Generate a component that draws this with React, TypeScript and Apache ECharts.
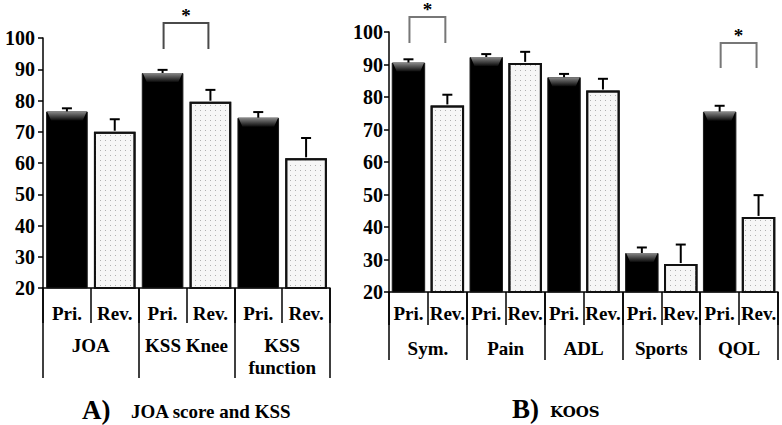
import React, { useEffect, useRef } from "react";
import * as echarts from "echarts";

// ---- data ----
const leftCats = ["Pri.", "Rev.", "Pri.", "Rev.", "Pri.", "Rev."];
const leftGroups = ["JOA", "KSS Knee", "KSS\nfunction"];
const leftMeans = [76.5, 70, 88.8, 79.6, 74.5, 61.5];
const leftErrs = [1, 4, 1, 3.8, 1.8, 6.5];

const rightCats = ["Pri.", "Rev.", "Pri.", "Rev.", "Pri.", "Rev.", "Pri.", "Rev.", "Pri.", "Rev."];
const rightGroups = ["Sym.", "Pain", "ADL", "Sports", "QOL"];
const rightMeans = [90.6, 77.4, 92.3, 90.5, 86.1, 82, 32, 28.6, 75.5, 43.1];
const rightErrs = [1, 3.3, 0.9, 3.4, 1, 3.6, 1.7, 6, 1.8, 6.7];

const yTicks = { min: 20, max: 100, interval: 10 };

// significance brackets: [fromIndex, toIndex, bottomLevel, topLevel]
const leftSig = [[2, 3, 96.5, 104.8]];
const rightSig = [
  [0, 1, 96.6, 104.6],
  [8, 9, 88.9, 96.6],
];

const FONT = "Liberation Serif, Times New Roman, serif";

export default function App() {
  const ref = useRef<HTMLDivElement>(null);

  useEffect(() => {
    if (!ref.current) return;
    const chart = echarts.init(ref.current, undefined, { renderer: "svg" });

    const priStyle = { color: "#000", borderColor: "#1a1a1a", borderWidth: 1 };
    const revStyle = {
      color: "#f6f6f6",
      borderColor: "#111",
      borderWidth: 2,
      decal: {
        symbol: "rect",
        symbolSize: 1,
        dashArrayX: [1, 4],
        dashArrayY: [1, 4],
        color: "#b0b0b0",
      },
    };

    const barData = (arr: number[]) =>
      arr.map((v, i) => ({ value: v, itemStyle: i % 2 === 0 ? priStyle : revStyle }));

    const errRender = (gap: number) => (params: any, api: any) => {
      const idx = api.value(0);
      const mean = api.value(1);
      const err = api.value(2);
      const p = api.coord([idx, mean]);
      const t = api.coord([idx, mean + err]);
      const bw = api.size([1, 0])[0] * (1 - gap);
      const children: any[] = [];
      if (params.dataIndex % 2 === 0) {
        const x0 = p[0] - bw / 2;
        const x1 = p[0] + bw / 2;
        children.push({
          type: "polygon",
          shape: {
            points: [
              [x0 + 1, p[1]],
              [x1 - 1, p[1]],
              [x1 - 5, p[1] + 9],
              [x0 + 5, p[1] + 9],
            ],
          },
          style: {
            fill: new echarts.graphic.LinearGradient(0, 0, 0, 1, [
              { offset: 0, color: "#8a8a8a" },
              { offset: 1, color: "#0a0a0a" },
            ]),
          },
        });
      }
      children.push({
        type: "line",
        shape: { x1: p[0], y1: p[1] + (params.dataIndex % 2 === 0 ? 0 : -1), x2: t[0], y2: t[1] },
        style: { stroke: "#000", lineWidth: 2 },
      });
      children.push({
        type: "line",
        shape: { x1: t[0] - 5, y1: t[1], x2: t[0] + 5, y2: t[1] },
        style: { stroke: "#000", lineWidth: 2 },
      });
      return { type: "group", children };
    };

    const sigRender = (color: string) => (params: any, api: any) => {
      const i0 = api.value(0);
      const i1 = api.value(1);
      const lo = api.value(2);
      const hi = api.value(3);
      const a = api.coord([i0, lo]);
      const b = api.coord([i1, hi]);
      const c = api.coord([i1, lo]);
      const xa = a[0] + 1;
      const xb = c[0] - 2;
      return {
        type: "group",
        children: [
          {
            type: "polyline",
            shape: {
              points: [
                [xa, a[1]],
                [xa, b[1]],
                [xb, b[1]],
                [xb, c[1]],
              ],
            },
            style: { stroke: color, lineWidth: 2, fill: "none" },
          },
          {
            type: "text",
            style: {
              text: "*",
              x: (xa + xb) / 2,
              y: b[1] - 8,
              fill: "#000",
              fontFamily: FONT,
              fontWeight: "bold",
              fontSize: 19,
              align: "center",
              verticalAlign: "middle",
            },
          },
        ],
      };
    };

    const labelStyle = {
      color: "#000",
      fontFamily: FONT,
      fontWeight: "bold" as const,
      fontSize: 19,
      lineHeight: 22,
      interval: 0,
    };
    const blackLine = { color: "#000", width: 1.5 };

    const option: any = {
      animation: false,
      textStyle: { fontFamily: FONT },
      grid: [
        { left: 43, top: 38, width: 287, height: 250 },
        { left: 389, top: 32, width: 389, height: 260 },
      ],
      xAxis: [
        {
          gridIndex: 0,
          type: "category",
          data: leftCats,
          position: "bottom",
          axisLine: { show: true, lineStyle: blackLine },
          axisTick: { show: true, length: 35, lineStyle: blackLine },
          axisLabel: { ...labelStyle, margin: 14 },
        },
        {
          gridIndex: 0,
          type: "category",
          data: leftGroups,
          position: "bottom",
          axisLine: { show: false },
          axisTick: { show: true, length: 90, lineStyle: blackLine },
          axisLabel: { ...labelStyle, margin: 46 },
        },
        {
          gridIndex: 1,
          type: "category",
          data: rightCats,
          position: "bottom",
          axisLine: { show: true, lineStyle: blackLine },
          axisTick: { show: true, length: 33, lineStyle: blackLine },
          axisLabel: { ...labelStyle, margin: 10 },
        },
        {
          gridIndex: 1,
          type: "category",
          data: rightGroups,
          position: "bottom",
          axisLine: { show: false },
          axisTick: { show: true, length: 68, lineStyle: blackLine },
          axisLabel: { ...labelStyle, margin: 45 },
        },
      ],
      yAxis: [
        {
          gridIndex: 0,
          type: "value",
          ...yTicks,
          axisLine: { show: true, lineStyle: blackLine },
          axisTick: { show: true, length: 5, lineStyle: blackLine },
          splitLine: { show: false },
          axisLabel: { color: "#000", fontFamily: FONT, fontWeight: "bold", fontSize: 20, margin: 8 },
        },
        {
          gridIndex: 1,
          type: "value",
          ...yTicks,
          axisLine: { show: true, lineStyle: blackLine },
          axisTick: { show: true, length: 5, lineStyle: blackLine },
          splitLine: { show: false },
          axisLabel: { color: "#000", fontFamily: FONT, fontWeight: "bold", fontSize: 20, margin: 6 },
        },
      ],
      series: [
        {
          type: "bar",
          xAxisIndex: 0,
          yAxisIndex: 0,
          data: barData(leftMeans),
          barCategoryGap: "13%",
        },
        {
          type: "custom",
          xAxisIndex: 0,
          yAxisIndex: 0,
          renderItem: errRender(0.13),
          encode: { x: 0, y: 1 },
          data: leftMeans.map((v, i) => [i, v, leftErrs[i]]),
          z: 5,
        },
        {
          type: "bar",
          xAxisIndex: 2,
          yAxisIndex: 1,
          data: barData(rightMeans),
          barCategoryGap: "14%",
        },
        {
          type: "custom",
          xAxisIndex: 2,
          yAxisIndex: 1,
          renderItem: errRender(0.14),
          encode: { x: 0, y: 1 },
          data: rightMeans.map((v, i) => [i, v, rightErrs[i]]),
          z: 5,
        },
        {
          type: "custom",
          xAxisIndex: 0,
          yAxisIndex: 0,
          renderItem: sigRender("#4a4a4a"),
          encode: { x: 0, y: 2 },
          data: leftSig,
          clip: false,
          z: 6,
        },
        {
          type: "custom",
          xAxisIndex: 2,
          yAxisIndex: 1,
          renderItem: sigRender("#777"),
          encode: { x: 0, y: 2 },
          data: rightSig,
          clip: false,
          z: 6,
        },
      ],
      graphic: [
        {
          type: "text",
          style: { text: "A)", x: 82, y: 410, fill: "#000", fontFamily: FONT, fontWeight: "bold", fontSize: 27, verticalAlign: "middle" },
        },
        {
          type: "text",
          style: { text: "JOA score and KSS", x: 131, y: 411, fill: "#000", fontFamily: FONT, fontWeight: "bold", fontSize: 19, verticalAlign: "middle" },
        },
        {
          type: "text",
          style: { text: "B)", x: 512, y: 409, fill: "#000", fontFamily: FONT, fontWeight: "bold", fontSize: 27, verticalAlign: "middle" },
        },
        {
          type: "text",
          style: { text: "KOOS", x: 550, y: 412, fill: "#000", fontFamily: "DejaVu Serif, serif", fontWeight: "bold", fontSize: 15, verticalAlign: "middle" },
        },
      ],
    };

    chart.setOption(option);
    return () => chart.dispose();
  }, []);

  return (
    <div
      ref={ref}
      style={{ position: "fixed", left: 0, top: 0, width: 782, height: 425, background: "#fff" }}
    />
  );
}
